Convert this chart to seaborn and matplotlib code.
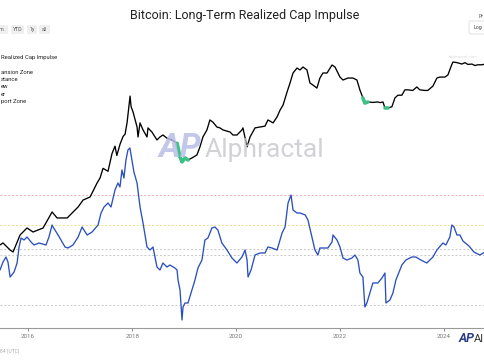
import matplotlib
matplotlib.use("Agg")
import matplotlib.pyplot as plt
from matplotlib.patches import FancyBboxPatch
import pandas as pd
import seaborn as sns

sns.set_theme(style="white")
plt.rcParams['font.family'] = ['Roboto', 'DejaVu Sans']

# ---------------- data ----------------
price_dates = ["2015-06-17", "2015-07-08", "2015-08-27", "2015-09-17", "2015-11-05", "2015-12-24",
               "2016-02-04", "2016-04-15", "2016-06-17", "2016-07-22", "2016-10-01", "2016-12-17",
               "2017-01-21", "2017-03-11", "2017-04-29", "2017-05-20", "2017-06-10", "2017-07-15",
               "2017-08-12", "2017-09-02", "2017-09-15", "2017-10-08", "2017-10-29", "2017-11-12",
               "2017-11-26", "2017-12-17", "2017-12-24", "2018-01-07", "2018-02-04", "2018-02-11",
               "2018-02-25", "2018-03-18", "2018-04-15", "2018-04-22", "2018-05-20", "2018-06-24",
               "2018-07-15", "2018-08-05", "2018-09-02", "2018-10-08", "2018-11-12", "2018-12-03",
               "2018-12-17", "2019-01-07", "2019-01-28", "2019-02-25", "2019-04-01", "2019-04-22",
               "2019-05-13", "2019-06-10", "2019-07-01", "2019-07-22", "2019-08-19", "2019-09-09",
               "2019-10-01", "2019-10-29", "2019-11-19", "2019-12-10", "2020-01-07", "2020-02-11",
               "2020-02-18", "2020-03-18", "2020-04-08", "2020-05-13", "2020-06-17", "2020-07-22",
               "2020-08-12", "2020-09-17", "2020-10-15", "2020-11-05", "2020-11-26", "2020-12-24",
               "2021-01-14", "2021-02-04", "2021-03-04", "2021-03-25", "2021-04-15", "2021-05-13",
               "2021-06-03", "2021-06-24", "2021-07-22", "2021-08-12", "2021-09-02", "2021-10-01",
               "2021-11-05", "2021-11-26", "2021-12-31", "2022-01-21", "2022-02-25", "2022-04-01",
               "2022-04-29", "2022-05-20", "2022-06-10", "2022-06-24", "2022-07-15", "2022-08-19",
               "2022-09-23", "2022-10-08", "2022-10-29", "2022-11-12", "2022-12-03", "2022-12-31",
               "2023-01-21", "2023-02-11", "2023-03-11", "2023-04-01", "2023-04-22", "2023-05-27",
               "2023-06-24", "2023-07-15", "2023-08-19", "2023-09-09", "2023-10-15", "2023-11-12",
               "2023-12-03", "2024-01-07", "2024-01-28", "2024-02-25", "2024-03-04", "2024-04-01",
               "2024-05-06", "2024-05-27", "2024-06-17", "2024-07-15", "2024-08-05", "2024-08-26",
               "2024-09-23", "2024-10-15"]
price_values = [283, 300, 245, 232, 376, 459,
                409, 459, 723, 610, 610, 834,
                1016, 1107, 1648, 1901, 2500, 2300,
                3800, 4700, 3600, 5000, 6200, 6600,
                9200, 19500, 14500, 12400, 8100, 6100,
                9100, 7450, 6100, 7900, 7000, 5600,
                6100, 6450, 5900, 5600, 5100, 3450,
                3000, 3360, 3170, 3360, 3660, 4600,
                6100, 7450, 9900, 9300, 8100, 7900,
                7450, 7200, 7030, 6450, 6450, 7450,
                7900, 4600, 6100, 7900, 8100, 8300,
                9900, 9100, 10800, 13100, 15100, 21900,
                28300, 37600, 43300, 41000, 44600, 41000,
                28300, 26700, 24500, 32600, 37600, 37600,
                47200, 44600, 33500, 30800, 32600, 32600,
                30800, 23200, 18500, 16000, 16500, 16300,
                16500, 16200, 16500, 13900, 13900, 14400,
                18500, 20000, 20000, 23300, 23300, 22900,
                25300, 23300, 22900, 22900, 25900, 32600,
                33500, 33500, 35500, 48000, 51400, 50500,
                48500, 50500, 48000, 48500, 46500, 47500,
                47500, 48500]

impulse_dates = ["2015-06-17", "2015-07-08", "2015-07-29", "2015-08-12", "2015-08-27", "2015-09-24",
                 "2015-10-15", "2015-10-29", "2015-11-12", "2015-12-03", "2015-12-24", "2016-01-21",
                 "2016-02-11", "2016-03-17", "2016-05-05", "2016-05-26", "2016-06-17", "2016-06-24",
                 "2016-07-29", "2016-09-16", "2016-10-07", "2016-11-11", "2016-12-17", "2017-01-14",
                 "2017-02-18", "2017-03-25", "2017-05-06", "2017-05-27", "2017-06-17", "2017-07-15",
                 "2017-08-05", "2017-09-02", "2017-09-23", "2017-10-07", "2017-10-21", "2017-11-04",
                 "2017-11-18", "2017-12-02", "2017-12-16", "2017-12-30", "2018-01-13", "2018-02-04",
                 "2018-02-25", "2018-03-18", "2018-04-15", "2018-05-06", "2018-05-27", "2018-06-24",
                 "2018-07-15", "2018-08-05", "2018-09-02", "2018-09-23", "2018-10-28", "2018-11-12",
                 "2018-11-19", "2018-12-03", "2018-12-17", "2018-12-24", "2019-01-07", "2019-01-28",
                 "2019-02-25", "2019-03-18", "2019-04-08", "2019-05-06", "2019-05-27", "2019-06-17",
                 "2019-07-15", "2019-08-05", "2019-08-26", "2019-09-23", "2019-10-29", "2019-12-03",
                 "2020-01-07", "2020-02-11", "2020-03-04", "2020-03-18", "2020-03-25", "2020-04-15",
                 "2020-05-13", "2020-06-17", "2020-07-22", "2020-08-12", "2020-09-09", "2020-10-15",
                 "2020-11-19", "2020-12-10", "2020-12-31", "2021-01-21", "2021-02-04", "2021-03-04",
                 "2021-03-25", "2021-05-01", "2021-05-20", "2021-06-17", "2021-07-08", "2021-07-29",
                 "2021-08-12", "2021-09-16", "2021-10-07", "2021-11-05", "2021-11-12", "2021-12-10",
                 "2021-12-31", "2022-01-21", "2022-02-18", "2022-03-25", "2022-04-15", "2022-05-06",
                 "2022-05-20", "2022-06-10", "2022-06-24", "2022-07-08", "2022-07-29", "2022-08-19",
                 "2022-09-23", "2022-10-22", "2022-11-12", "2022-11-19", "2022-12-17", "2023-01-07",
                 "2023-01-28", "2023-02-25", "2023-03-11", "2023-04-08", "2023-05-20", "2023-06-17",
                 "2023-07-22", "2023-09-02", "2023-10-15", "2023-11-12", "2023-12-24", "2024-01-14",
                 "2024-02-11", "2024-02-25", "2024-03-11", "2024-04-01", "2024-04-22", "2024-05-13",
                 "2024-06-24", "2024-07-29", "2024-09-09", "2024-10-15"]
impulse_values = [-7.5, -3.5, -1, -3.5, -11, -8.5,
                  -4, 4, 8.5, 7.5, 9, 6.5,
                  5, 6, 5, 9, 15, 14,
                  10, 4, 3.5, 5, 9, 14,
                  10, 11.5, 15, 21, 24, 26,
                  24, 32.5, 36, 34, 42.5, 38.5,
                  47.5, 52.5, 53.5, 47.5, 41.5, 36,
                  24, 16, 4, 2.5, 4, -6,
                  -7.5, -4, -6, -5, -6.5, -7.5,
                  -12.5, -17.5, -32.5, -26, -24, -24,
                  -17.5, -12.5, -6.5, -2.5, 7.5, 8.5,
                  13.5, 14, 12.5, 6, 2.5, -1.5,
                  -4, -1, 2.5, -2.5, -11, -7.5,
                  0, 1, 1, 4, 3.5, 2.5,
                  11, 14, 26, 30, 22.5, 21,
                  21, 20, 17.5, 9, 2.5, 0,
                  3.5, 3.5, 3.5, 6.5, 10, 7.5,
                  4, -1.5, -2.5, -1.5, 0, -2.5,
                  -9, -11, -26, -24, -19, -14,
                  -14, -11.5, -9, -24, -22.5, -19,
                  -12.5, -7.5, -5, -2.5, -1, -1,
                  -2.5, -4, -1, 2.5, 6, 5,
                  9, 15, 14, 10, 10, 7,
                  4.5, 1.5, 0, 1.5]

zone_levels = [30, 15, 3, 0, -25]
zone_colors = ["#f2b0b0", "#eedd88", "#c8c8c8", "#c8c8c8", "#c8c8c8"]

accum_ranges = [("2018-11-12", "2019-02-10"), ("2022-06-10", "2022-07-20"), ("2022-11-10", "2022-12-05")]

year_ticks = ["2016", "2018", "2020", "2022", "2024"]
legend_labels = ["Realized Cap Impulse", "ansion Zone", "stance", "ew", "er", "port Zone"]
buttons = ["m", "YTD", "1y", "all"]

title = "Bitcoin: Long-Term Realized Cap Impulse"

# ---------------- frames ----------------
price_df = pd.DataFrame({"date": pd.to_datetime(price_dates), "price": price_values})
imp_df = pd.DataFrame({"date": pd.to_datetime(impulse_dates), "impulse": impulse_values})

W, H = 485, 360
fig = plt.figure(figsize=(W / 100, H / 100), dpi=100)
fig.patch.set_facecolor("white")

top_px, bot_px = 40, 328
ax = fig.add_axes([0, 1 - bot_px / H, 1, (bot_px - top_px) / H])
ax.set_facecolor("none")
ax2 = ax.twinx()

# zone lines
for lvl, col in zip(zone_levels, zone_colors):
    ax.axhline(lvl, color=col, lw=0.7, ls=(0, (2, 2)), zorder=1)

sns.lineplot(data=imp_df, x="date", y="impulse", ax=ax, color="#2a4fbf", lw=0.95, zorder=3)
sns.lineplot(data=price_df, x="date", y="price", ax=ax2, color="black", lw=0.95, zorder=3)
for s, e in accum_ranges:
    sub = price_df[(price_df["date"] >= pd.Timestamp(s)) & (price_df["date"] <= pd.Timestamp(e))]
    sns.lineplot(data=sub, x="date", y="price", ax=ax2, color="#3cc184", lw=2.6, zorder=4)

ax.set_ylim(-36.5, 107.5)
ax2.set_yscale("log")
ax2.set_ylim(26.7, 96100)
xmin, xmax = pd.Timestamp("2015-06-17"), pd.Timestamp("2024-10-15")
ax.set_xlim(xmin, xmax)
ax2.set_xlim(xmin, xmax)

for a in (ax, ax2):
    a.set_xlabel("")
    a.set_ylabel("")
    a.set_yticks([])
    for sp in ["top", "left", "right"]:
        a.spines[sp].set_visible(False)
    a.grid(False)
ax2.spines["bottom"].set_visible(False)
ax.spines["bottom"].set_color("#9a9a9a")
ax.spines["bottom"].set_linewidth(0.8)
ax.set_xticks([pd.Timestamp(y + "-01-01") for y in year_ticks])
ax.set_xticklabels(year_ticks)
ax.tick_params(axis="x", labelsize=4.5, colors="#777777", length=2.5, width=0.6, pad=2,
               bottom=True)
ax2.tick_params(axis="x", bottom=False, labelbottom=False)

# title
fig.text(245 / W, 1 - 16 / H, title, ha="center", va="center", fontsize=9, color="#222222")

# watermark
fig.text(180 / W, 1 - 148 / H, "AP", ha="center", va="center", fontsize=24, fontweight="bold",
         style="italic", color="#b9bfe8", alpha=0.85, zorder=0)
fig.text(205 / W, 1 - 150 / H, "Alphractal", ha="left", va="center", fontsize=19,
         color="#c6c6cc", alpha=0.8, zorder=0)

# range buttons
bx = [-6, 11, 27, 39]
bw = [14, 13, 10, 11]
for t, x0, w in zip(buttons, bx, bw):
    fig.patches.append(FancyBboxPatch((x0 / W, 1 - 34 / H), w / W, 9 / H,
                                      boxstyle="round,pad=0,rounding_size=0.004",
                                      transform=fig.transFigure, facecolor="#efefef",
                                      edgecolor="none"))
    fig.text((x0 + w / 2) / W, 1 - 29.5 / H, t, ha="center", va="center", fontsize=3.8,
             color="#555555")

# legend fragments
leg_y = [57, 72, 79.5, 87, 94.5, 102]
for t, yy in zip(legend_labels, leg_y):
    fig.text(1 / W, 1 - yy / H, t, ha="left", va="center", fontsize=4.2, color="#222222")

# top-right controls
fig.text(479 / W, 1 - 16 / H, "Pr", ha="left", va="center", fontsize=3.8, color="#555555")
fig.patches.append(FancyBboxPatch((469 / W, 1 - 34 / H), 20 / W, 13 / H,
                                  boxstyle="round,pad=0,rounding_size=0.004",
                                  transform=fig.transFigure, facecolor="white",
                                  edgecolor="#dddddd", lw=0.6))
fig.text(474 / W, 1 - 27.5 / H, "Log", ha="left", va="center", fontsize=3.8, color="#444444")
fig.text(463 / W, 1 - 57 / H, "alphractal.com", ha="center", va="center", fontsize=3.2,
         color="#dddddd")

# bottom texts
fig.text(0 / W, 1 - 351 / H, "84 (UTC)", ha="left", va="center", fontsize=3.5, color="#aaaaaa")
fig.text(467 / W, 1 - 339 / H, "AP", ha="center", va="center", fontsize=9, fontweight="bold",
         style="italic", color="#2b3d8f")
fig.text(474 / W, 1 - 339 / H, "Al", ha="left", va="center", fontsize=8, color="#333333")

fig.savefig("out.png", dpi=100, facecolor="white")
